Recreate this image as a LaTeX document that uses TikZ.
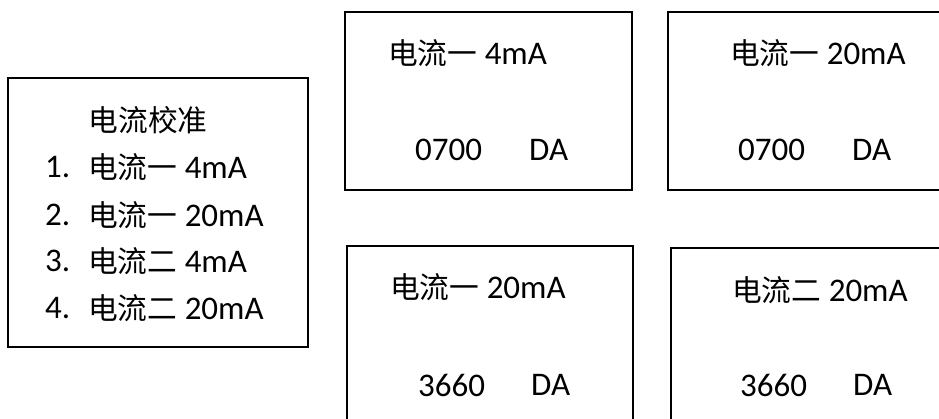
\documentclass[tikz,border=0pt]{standalone}
\usepackage{fontspec}
\setmainfont{Carlito}
\newfontfamily\cjk[Scale=0.9]{Noto Sans CJK SC}
\begin{document}
\begin{tikzpicture}[x=1pt,y=-1pt,
  panel/.style={draw=black,line width=2pt},
  txt/.style={anchor=west,inner sep=0pt,font=\fontsize{33}{38}\selectfont},
  ctxt/.style={anchor=center,inner sep=0pt,font=\fontsize{33}{38}\selectfont}]
\useasboundingbox (0,0) rectangle (939,419);
\clip (0,0) rectangle (939,419);
% boxes
\draw[panel] (8,78) rectangle (308,347);
\draw[panel] (345,12) rectangle (632,190);
\draw[panel] (668,12) rectangle (960,190);
\draw[panel] (347,246) rectangle (633,440);
\draw[panel] (671,248) rectangle (960,440);
% left menu
\node[ctxt] (title) at (148,120) {{\cjk 电流校准}};
\node[txt] (n1) at (45,167) {1.};
\node[txt] (m1) at (88,167) {{\cjk 电流一} 4mA};
\node[txt] (n2) at (45,215) {2.};
\node[txt] (m2) at (88,215) {{\cjk 电流一} 20mA};
\node[txt] (n3) at (45,261) {3.};
\node[txt] (m3) at (88,261) {{\cjk 电流二} 4mA};
\node[txt] (n4) at (45,308) {4.};
\node[txt] (m4) at (88,308) {{\cjk 电流二} 20mA};
% top middle
\node[txt] (a1) at (388,53) {{\cjk 电流一} 4mA};
\node[txt] (a2) at (415,150) {0700};
\node[txt] (a3) at (529,150) {DA};
% top right
\node[txt] (b1) at (730,53) {{\cjk 电流一} 20mA};
\node[txt] (b2) at (738,150) {0700};
\node[txt] (b3) at (852,150) {DA};
% bottom middle
\node[txt] (c1) at (390,287) {{\cjk 电流一} 20mA};
\node[txt] (c2) at (418,385) {3660};
\node[txt] (c3) at (531,385) {DA};
% bottom right
\node[txt] (d1) at (732,290) {{\cjk 电流二} 20mA};
\node[txt] (d2) at (740,385) {3660};
\node[txt] (d3) at (853,385) {DA};
\end{tikzpicture}
\end{document}
